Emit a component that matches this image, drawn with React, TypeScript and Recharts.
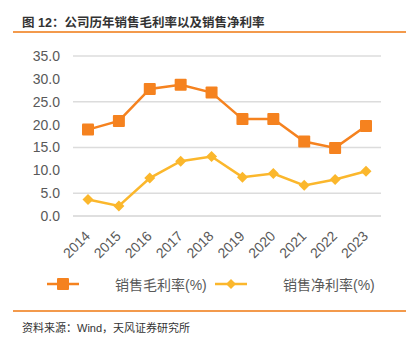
import React from "react";
import { LineChart, Line, XAxis, YAxis, CartesianGrid } from "recharts";

const years = ["2014", "2015", "2016", "2017", "2018", "2019", "2020", "2021", "2022", "2023"];
const grossMargin = [18.9, 20.8, 27.8, 28.7, 27.0, 21.2, 21.2, 16.3, 14.9, 19.7];
const netMargin = [3.6, 2.2, 8.3, 12.0, 13.0, 8.5, 9.3, 6.7, 8.0, 9.8];
const yTicks = [0, 5, 10, 15, 20, 25, 30, 35];
const seriesNames = ["销售毛利率(%)", "销售净利率(%)"];

const ORANGE = "#F5821F";
const YELLOW = "#FBB72C";
const FONT = "'Liberation Sans', 'Noto Sans CJK SC', sans-serif";

const data = years.map((y, i) => ({ year: y, gross: grossMargin[i], net: netMargin[i] }));

const SquareDot = (props: any) => {
  const { cx, cy } = props;
  if (cx == null || cy == null) return null;
  return <rect x={cx - 6} y={cy - 6} width={12} height={12} fill={ORANGE} rx={1} />;
};

const DiamondDot = (props: any) => {
  const { cx, cy } = props;
  if (cx == null || cy == null) return null;
  const r = 5.5;
  return <polygon points={`${cx},${cy - r} ${cx + r},${cy} ${cx},${cy + r} ${cx - r},${cy}`} fill={YELLOW} />;
};

const XTick = (props: any) => {
  const { x, y, payload } = props;
  const tx = x + 3;
  const ty = y + 13;
  return (
    <text x={tx} y={ty} textAnchor="end" fill="#595959" fontSize={14} fontFamily={FONT} transform={`rotate(-45, ${tx}, ${ty})`}>
      {payload.value}
    </text>
  );
};

export default function App() {
  return (
    <div style={{ position: "absolute", left: 0, top: 0, width: 417, height: 344, background: "#fff", fontFamily: FONT }}>
      <div style={{ position: "absolute", left: 22, top: 12, fontSize: 12.5, fontWeight: "bold", color: "#333", whiteSpace: "nowrap" }}>
        图 12：公司历年销售毛利率以及销售净利率
      </div>
      <div style={{ position: "absolute", left: 13, top: 31, width: 393, height: 2, background: "#F39A4C" }} />
      <div style={{ position: "absolute", left: 0, top: 0 }}>
        <LineChart width={417} height={270} data={data} margin={{ top: 56, right: 36, bottom: 4, left: 0 }}>
          <CartesianGrid vertical={false} stroke="#DCDCDC" strokeWidth={1.5} />
          <XAxis
            dataKey="year"
            height={50}
            padding={{ left: 15, right: 15 }}
            axisLine={{ stroke: "#DCDCDC", strokeWidth: 1.5 }}
            tickLine={false}
            interval={0}
            tick={<XTick />}
          />
          <YAxis
            width={73}
            domain={[0, 35]}
            ticks={yTicks}
            axisLine={false}
            tickLine={false}
            tickMargin={7}
            tickFormatter={(v: number) => v.toFixed(1)}
            tick={{ fill: "#595959", fontSize: 14, fontFamily: FONT }}
          />
          <Line dataKey="gross" stroke={ORANGE} strokeWidth={2.5} dot={<SquareDot />} isAnimationActive={false} />
          <Line dataKey="net" stroke={YELLOW} strokeWidth={2.5} dot={<DiamondDot />} isAnimationActive={false} />
        </LineChart>
      </div>
      <svg style={{ position: "absolute", left: 0, top: 272 }} width={417} height={24}>
        <line x1={47} x2={79} y1={12} y2={12} stroke={ORANGE} strokeWidth={2.5} />
        <rect x={57} y={6} width={12} height={12} fill={ORANGE} rx={1} />
        <line x1={215} x2={247} y1={12} y2={12} stroke={YELLOW} strokeWidth={2.5} />
        <polygon points="231,7 236,12 231,17 226,12" fill={YELLOW} />
      </svg>
      <div style={{ position: "absolute", left: 115, top: 274, fontSize: 14, color: "#595959", whiteSpace: "nowrap" }}>{seriesNames[0]}</div>
      <div style={{ position: "absolute", left: 283, top: 274, fontSize: 14, color: "#595959", whiteSpace: "nowrap" }}>{seriesNames[1]}</div>
      <div style={{ position: "absolute", left: 13, top: 310, width: 393, height: 2, background: "#F39A4C" }} />
      <div style={{ position: "absolute", left: 22, top: 319, fontSize: 11, color: "#333", whiteSpace: "nowrap" }}>
        资料来源：Wind，天风证券研究所
      </div>
    </div>
  );
}
